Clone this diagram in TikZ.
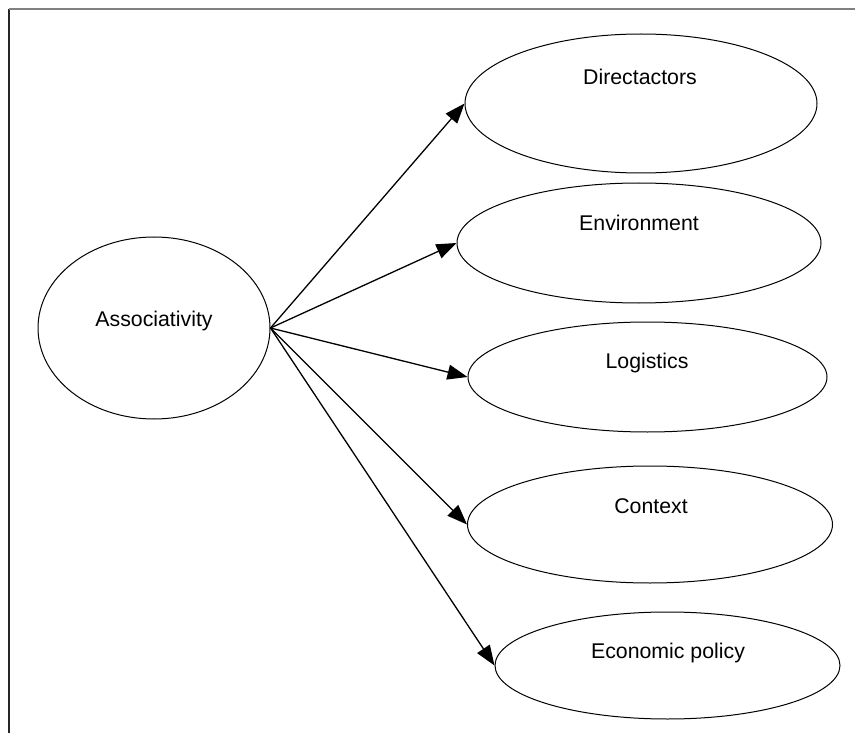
\documentclass[tikz,border=0pt]{standalone}
\usepackage{fontspec}
\setmainfont{Liberation Sans}
\usetikzlibrary{shapes.geometric,arrows.meta}
\begin{document}
\begin{tikzpicture}[x=1pt,y=-1pt,
  oval/.style={draw=black,line width=1pt,ellipse,inner sep=0pt},
  lbl/.style={anchor=base,inner sep=0pt,font=\fontsize{21.3}{25}\selectfont},
  arr/.style={draw=black,line width=1.3pt,-{Triangle[length=20pt,width=15pt]}},
  frametop/.style={draw=black!50,line width=1.4pt},
  frameleft/.style={draw=black!85,line width=1.4pt}]
\useasboundingbox (0,0) rectangle (855,733);
\coordinate (fl) at (8.8,733);
\coordinate (fc) at (8.8,9);
\coordinate (fr) at (855,9);
\draw[frameleft] (fl) -- (fc);
\draw[frametop] (fc) -- (fr);
% ellipses
\node[oval,minimum width=232pt,minimum height=182pt] (as) at (154,328) {};
\node[oval,minimum width=352pt,minimum height=139pt] (di) at (641,103.5) {};
\node[oval,minimum width=364pt,minimum height=120pt] (en) at (639,243) {};
\node[oval,minimum width=359pt,minimum height=110pt] (lo) at (647.5,377) {};
\node[oval,minimum width=365pt,minimum height=117pt] (co) at (650,524.5) {};
\node[oval,minimum width=345pt,minimum height=107pt] (ec) at (667.5,665.5) {};
% labels
\node[lbl] (ast) at (154,326) {Associativity};
\node[lbl] (dit) at (640,85) {Directactors};
\node[lbl] (ent) at (639,230) {Environment};
\node[lbl] (lot) at (647,368) {Logistics};
\node[lbl] (cot) at (651,513) {Context};
\node[lbl] (ect) at (668,658) {Economic policy};
% arrows
\draw[arr] (as.east) -- (di.west);
\draw[arr] (as.east) -- (en.west);
\draw[arr] (as.east) -- (lo.west);
\draw[arr] (as.east) -- (co.west);
\draw[arr] (as.east) -- (ec.west);
\end{tikzpicture}
\end{document}
